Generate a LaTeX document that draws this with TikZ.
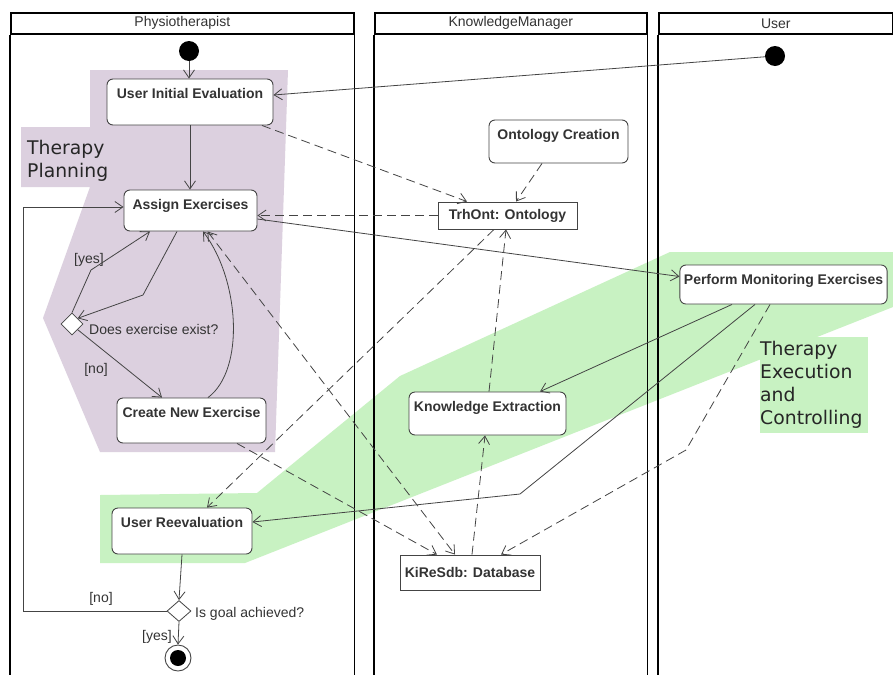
\documentclass[tikz,border=0pt]{standalone}
\usepackage{fontspec}
\setmainfont{Liberation Sans}
\newfontfamily\regfont{DejaVu Sans}
\usetikzlibrary{arrows.meta,shapes.geometric,calc}
\definecolor{purp}{HTML}{DCD0DF}
\definecolor{grn}{HTML}{C8F2C2}
\definecolor{ln}{HTML}{444444}
\definecolor{txt}{HTML}{333333}
\begin{document}
\begin{tikzpicture}[x=1pt,y=-1pt,
  font=\fontsize{14}{16}\selectfont,
  lanehead/.style={draw, line width=1.6pt, anchor=north west, minimum height=21, inner sep=0, text=txt},
  laneline/.style={line width=1.6pt},
  act/.style={draw=ln, fill=white, rounded corners=6pt, line width=0.9pt, inner sep=4pt, text height=15pt, font=\fontsize{14}{16}\selectfont\bfseries, text=txt},
  obj/.style={draw=ln, fill=white, line width=0.9pt, inner sep=0, font=\fontsize{14}{16}\selectfont\bfseries, text=txt},
  dec/.style={diamond, draw=ln, fill=white, line width=0.8pt, inner sep=0},
  startnode/.style={circle, fill=black, minimum size=20, inner sep=0},
  arr/.style={draw=ln, line width=0.8pt, -{Straight Barb[length=8pt,width=11pt]}},
  dsh/.style={arr, dash pattern=on 9pt off 5pt},
  guard/.style={text=txt, inner sep=0, text height=10pt, text depth=0pt},
  region/.style={font=\regfont\fontsize{18.8}{23}\selectfont, align=left, anchor=north west, inner sep=0, text=black!85}
]
\useasboundingbox (0,0) rectangle (893,675);
\fill[white] (0,0) rectangle (893,675);

% regions
\fill[purp] (90,70) -- (288,70) -- (275,452) -- (100,452) -- (43,318) -- (90,187) -- (21,187) -- (21,127) -- (90,127) -- cycle;
\fill[grn] (100,495) -- (257,493) -- (400,376) -- (670,252) -- (893,252) -- (893,307) -- (245,563) -- (100,563) -- cycle;
\fill[grn] (760,337) rectangle (868,433);
\node[region] (tp) at (27,140) {Therapy\\Planning};
\node[region] (tec) at (760,341) {Therapy\\Execution\\and\\Controlling};

% lanes
\node[lanehead, minimum width=343] (lp) at (10,12) {Physiotherapist};
\node[lanehead, minimum width=272] (lk) at (374,12) {KnowledgeManager};
\node[lanehead, minimum width=234] (lu) at (658,12) {User};
\draw[laneline] (lp.south west) -- (lp.south west |- 0,675);
\draw[laneline] (lp.south east) -- (lp.south east |- 0,675);
\draw[laneline] (lk.south west) -- (lk.south west |- 0,675);
\draw[laneline] (lk.south east) -- (lk.south east |- 0,675);
\draw[laneline] (lu.south west) -- (lu.south west |- 0,675);
\draw[laneline] (lu.south east) -- (lu.south east |- 0,675);

% nodes
\node[startnode] (s1) at (189,51) {};
\node[startnode] (s2) at (775,56) {};
\node[act, minimum width=166, text depth=23pt] (uie) at (190,102) {User Initial Evaluation};
\node[act, minimum width=133, text depth=18pt] (ae) at (190.5,210.5) {Assign Exercises};
\node[act, minimum width=149, text depth=22pt] (cne) at (191.5,420.5) {Create New Exercise};
\node[act, minimum width=140, text depth=23pt] (ur) at (182,531) {User Reevaluation};
\node[act, minimum width=139, text depth=20pt] (oc) at (558.5,141.5) {Ontology Creation};
\node[act, minimum width=157, text depth=20pt] (ke) at (487.5,413.5) {Knowledge Extraction};
\node[act, minimum width=207, text depth=16pt] (pme) at (783.5,284.5) {Perform Monitoring Exercises};
\node[obj, minimum width=139, minimum height=27] (trh) at (507.5,215.5) {TrhOnt: Ontology};
\node[obj, minimum width=140, minimum height=35] (kdb) at (470,572.5) {KiReSdb: Database};
\node[dec, minimum width=22, minimum height=22] (d1) at (72,324) {};
\node[dec, minimum width=24, minimum height=21] (d2) at (179,611) {};
\node[circle, draw=ln, fill=white, minimum size=26, inner sep=0, line width=0.9pt] (fin) at (178,658) {};
\fill (fin.center) circle (8);

% texts
\node[guard, anchor=west] (q1) at (89,329) {Does exercise exist?};
\node[guard, anchor=west] (q2) at (195,612) {Is goal achieved?};
\node[guard] (gy1) at (89,258) {[yes]};
\node[guard] (gn1) at (96,368) {[no]};
\node[guard] (gn2) at (101,597) {[no]};
\node[guard] (gy2) at (157,635) {[yes]};

% coordinates
\coordinate (lp1) at (23,207);
\coordinate (yb) at (91,270);
\coordinate (ab) at (143,295);
\coordinate (pb1) at (520,494);
\coordinate (pb2) at (686,450);

% solid edges
\draw[arr] (s1) -- (s1 |- uie.north);
\draw[arr] (s2) -- ([yshift=7pt]uie.east);
\draw[arr] (uie.south) -- (uie.south |- ae.north);
\draw[arr] (d2.west) -| (lp1) -- ([yshift=3.5pt]ae.west);
\draw[arr] (d1.north) -- (yb) -- ([xshift=-40.5pt]ae.south);
\draw[arr] ([xshift=-13.5pt]ae.south) -- (ab) -- (d1.north east);
\draw[arr] (d1.south east) -- ([xshift=-29.5pt]cne.north);
\draw[arr] ([xshift=16.5pt]cne.north) .. controls (245,370) and (240,280) .. ([xshift=12.5pt]ae.south);
\draw[arr] ([yshift=-8.5pt]ae.east) -- ([yshift=8pt]pme.west);
\draw[arr] (ur.south) -- (d2.north);
\draw[arr] (d2.south) -- (fin.north);
\draw[arr] ([xshift=-51.5pt]pme.south) -- ([xshift=52.5pt]ke.north);
\draw[arr] ([xshift=-28.5pt]pme.south) -- (pb1) -- ([yshift=9pt]ur.east);

% dashed edges
\draw[dsh] ([xshift=72pt]uie.south) -- ([xshift=-40.5pt]trh.north);
\draw[dsh] ([xshift=-16.5pt]oc.south) -- ([xshift=8.5pt]trh.north);
\draw[dsh] (trh.west) -- (trh.west -| ae.east);
\draw[dsh] ([xshift=-13.5pt]trh.south) -- ([xshift=25pt]ur.north);
\draw[dsh] ([xshift=1.5pt]ke.north) -- ([xshift=-1.5pt]trh.south);
\draw[dsh] ([xshift=2pt]kdb.north) -- ([xshift=-2.5pt]ke.south);
\draw[dsh, {Straight Barb[length=8pt,width=11pt]}-{Straight Barb[length=8pt,width=11pt]}] ([xshift=17pt]ae.south) -- ([xshift=-15pt]kdb.north);
\draw[dsh] ([xshift=45.5pt]cne.south) -- ([xshift=-33pt]kdb.north);
\draw[dsh] ([xshift=-13.5pt]pme.south) -- (pb2) -- ([xshift=31pt]kdb.north);
\end{tikzpicture}
\end{document}
